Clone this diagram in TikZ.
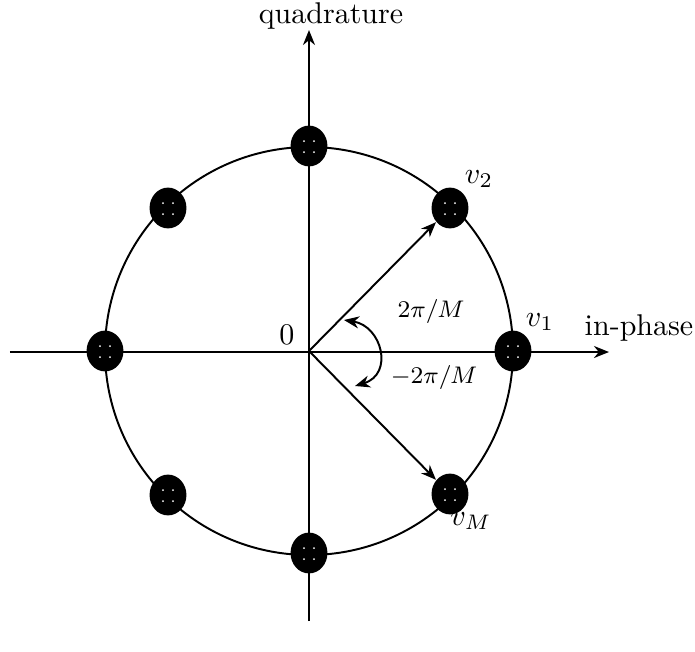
\documentclass[tikz,border=0pt]{standalone}
\usetikzlibrary{arrows.meta,shapes.geometric}
\begin{document}
\begin{tikzpicture}[x=0.3333pt,y=-0.3333pt,
  tip/.style={-{Stealth[length=5pt,width=4pt,inset=1.6pt]}},
  axis/.style={line width=0.65pt,tip},
  vec/.style={line width=0.65pt,tip},
  dot/.style={ellipse,fill=black,minimum width=12.3pt,minimum height=13.6pt,inner sep=0pt},
  lbl/.style={inner sep=0pt}]
\useasboundingbox (0,0) rectangle (695,651);
\coordinate (O) at (309,351);
\coordinate (L) at (10,352);
\coordinate (R) at (609,352);
\coordinate (B) at (309,621);
\coordinate (T) at (309,30);
% circle
\draw[line width=0.65pt] (O) circle[radius=204];
% axes
\draw[axis] (L) -- (R);
\draw[axis] (B) -- (T);
% dots
\node[dot] (d1) at (513,351) {};
\node[dot] (d2) at (450,208) {};
\node[dot] (d3) at (309,146) {};
\node[dot] (d4) at (168,208) {};
\node[dot] (d5) at (105,351) {};
\node[dot] (d6) at (168,495) {};
\node[dot] (d7) at (309,553) {};
\node[dot] (d8) at (450,494) {};
\foreach \d in {d1,d2,d3,d4,d5,d6,d7,d8}{
  \fill[white] (\d.center) ++(-5,-5) circle[radius=1];
  \fill[white] (\d.center) ++(5,-5) circle[radius=1];
  \fill[white] (\d.center) ++(-5,6) circle[radius=1];
  \fill[white] (\d.center) ++(5,6) circle[radius=1];
}
% vectors
\draw[vec] (O) -- (d2);
\draw[vec] (O) -- (d8);
% angle arrow
\coordinate (a1) at (344,320);
\coordinate (a2) at (355,386);
\draw[line width=0.65pt,{Stealth[length=5pt,width=4pt,inset=1.6pt]}-{Stealth[length=5pt,width=4pt,inset=1.6pt]}]
  (a1) .. controls (382,326) and (394,374) .. (a2);
% labels
\node[lbl] (q) at (331,16) {quadrature};
\node[lbl] (ip) at (639,328) {in-phase};
\node[lbl] (zero) at (287,335) {$0$};
\node[lbl] (v1) at (540,322) {$v_1$};
\node[lbl] (v2) at (479,179) {$v_2$};
\node[lbl] (vM) at (471,521) {$v_M$};
\node[lbl] (ap) at (431,311) {\footnotesize $2\pi/M$};
\node[lbl] (am) at (434,377) {\footnotesize $-2\pi/M$};
\end{tikzpicture}
\end{document}
